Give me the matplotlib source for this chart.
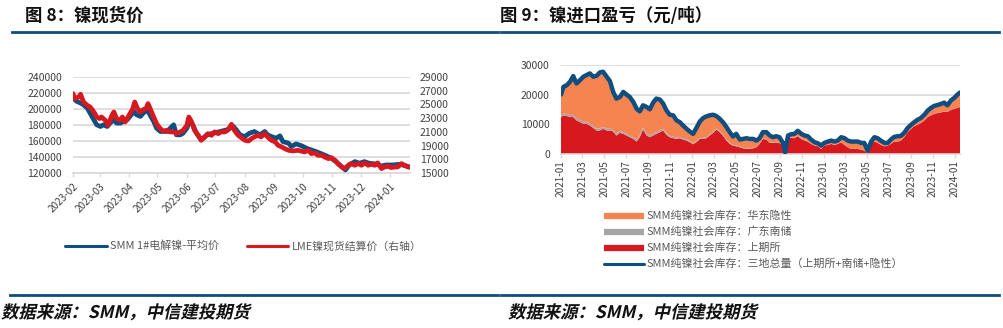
import numpy as np
import pandas as pd
import matplotlib
matplotlib.use('Agg')
import matplotlib.pyplot as plt
import matplotlib.dates as mdates
from matplotlib.lines import Line2D
from matplotlib import patheffects
from matplotlib.transforms import Affine2D

plt.rcParams['font.family'] = ['Noto Sans CJK SC', 'DejaVu Sans']

# ---------------- Figure 8 data: nickel spot prices ----------------
smm_dates = ['2023-02-01', '2023-02-05', '2023-02-09', '2023-02-12', '2023-02-16', '2023-02-19',
             '2023-02-23', '2023-02-26', '2023-03-02', '2023-03-05', '2023-03-09', '2023-03-12',
             '2023-03-16', '2023-03-19', '2023-03-23', '2023-03-26', '2023-03-30', '2023-04-02',
             '2023-04-06', '2023-04-09', '2023-04-13', '2023-04-16', '2023-04-20', '2023-04-23',
             '2023-04-27', '2023-04-30', '2023-05-04', '2023-05-11', '2023-05-18', '2023-05-21',
             '2023-05-25', '2023-05-28', '2023-06-01', '2023-06-04', '2023-06-08', '2023-06-11',
             '2023-06-16', '2023-06-22', '2023-06-29', '2023-07-06', '2023-07-13', '2023-07-20',
             '2023-07-23', '2023-07-27', '2023-08-01', '2023-08-06', '2023-08-11', '2023-08-17',
             '2023-08-22', '2023-08-25', '2023-08-29', '2023-09-03', '2023-09-07', '2023-09-10',
             '2023-09-16', '2023-09-19', '2023-09-24', '2023-09-30', '2023-10-05', '2023-10-10',
             '2023-10-15', '2023-10-21', '2023-10-26', '2023-10-31', '2023-11-05', '2023-11-11',
             '2023-11-15', '2023-11-19', '2023-11-25', '2023-11-30', '2023-12-05', '2023-12-10',
             '2023-12-17', '2023-12-23', '2023-12-28', '2024-01-04', '2024-01-11', '2024-01-18',
             '2024-01-22']
smm_price = [213670, 209490, 207400, 205310, 201130, 194860,
             186500, 180230, 178140, 180230, 178140, 182320,
             186500, 182320, 182320, 184410, 186500, 190680,
             196950, 192770, 190680, 194860, 199040, 192770,
             184410, 176050, 171870, 171870, 180230, 167690,
             167690, 169780, 176050, 186500, 178140, 169780,
             161420, 167690, 169780, 171870, 173960, 178140,
             173960, 167690, 165600, 169780, 171870, 167690,
             171870, 167690, 165600, 163510, 166430, 159330,
             157240, 153060, 156400, 153890, 150970, 148880,
             146790, 143860, 141350, 138430, 134250, 127980,
             123800, 130070, 134250, 132160, 134250, 132160,
             131320, 128810, 130070, 130070, 130900, 128810,
             127140]

lme_dates = ['2023-02-01', '2023-02-03', '2023-02-07', '2023-02-09', '2023-02-12', '2023-02-16',
             '2023-02-19', '2023-02-23', '2023-02-26', '2023-03-01', '2023-03-03', '2023-03-07',
             '2023-03-10', '2023-03-14', '2023-03-16', '2023-03-19', '2023-03-23', '2023-03-25',
             '2023-03-28', '2023-03-30', '2023-04-02', '2023-04-05', '2023-04-07', '2023-04-10',
             '2023-04-13', '2023-04-16', '2023-04-19', '2023-04-21', '2023-04-24', '2023-04-27',
             '2023-04-30', '2023-05-04', '2023-05-07', '2023-05-11', '2023-05-14', '2023-05-18',
             '2023-05-21', '2023-05-25', '2023-05-28', '2023-06-01', '2023-06-03', '2023-06-06',
             '2023-06-09', '2023-06-13', '2023-06-16', '2023-06-20', '2023-06-23', '2023-06-27',
             '2023-06-30', '2023-07-04', '2023-07-07', '2023-07-11', '2023-07-14', '2023-07-18',
             '2023-07-21', '2023-07-25', '2023-08-01', '2023-08-05', '2023-08-08', '2023-08-11',
             '2023-08-15', '2023-08-18', '2023-08-22', '2023-08-25', '2023-08-29', '2023-09-02',
             '2023-09-05', '2023-09-09', '2023-09-12', '2023-09-16', '2023-09-21', '2023-09-26',
             '2023-09-30', '2023-10-03', '2023-10-07', '2023-10-10', '2023-10-14', '2023-10-17',
             '2023-10-21', '2023-10-24', '2023-10-28', '2023-10-31', '2023-11-04', '2023-11-07',
             '2023-11-11', '2023-11-14', '2023-11-18', '2023-11-21', '2023-11-25', '2023-11-28',
             '2023-12-02', '2023-12-05', '2023-12-09', '2023-12-12', '2023-12-16', '2023-12-19',
             '2023-12-23', '2023-12-26', '2023-12-30', '2024-01-02', '2024-01-06', '2024-01-09',
             '2024-01-13', '2024-01-16', '2024-01-20', '2024-01-22']
lme_price = [26580, 25850, 26090, 26480, 25360, 24870,
             24630, 23900, 23170, 22930, 23170, 22690,
             21960, 23420, 23900, 22930, 22690, 23170,
             22440, 22930, 23660, 24390, 25360, 24390,
             23900, 24240, 24390, 25120, 24150, 23170,
             22200, 21470, 21130, 21230, 20990, 20990,
             20740, 20990, 21230, 21960, 23170, 22440,
             21230, 20500, 19770, 20260, 20740, 20500,
             20990, 20740, 20990, 20990, 21230, 22100,
             21230, 20500, 19770, 19670, 20010, 20260,
             20500, 20260, 20740, 20260, 19770, 19530,
             19040, 18800, 18560, 18310, 18220, 18310,
             18170, 18070, 18310, 17830, 17920, 17580,
             17580, 17340, 17100, 17240, 16860, 16370,
             15880, 15640, 16130, 16370, 16130, 16370,
             16130, 16470, 16130, 16270, 16130, 16470,
             15640, 15880, 15980, 15790, 15880, 15880,
             16370, 16130, 15880, 15880]

# ---------------- Figure 9 data: SMM pure nickel social inventory ----------------
inv_dates = ['2021-01-01', '2021-01-08', '2021-01-17', '2021-01-26', '2021-02-04', '2021-02-13', '2021-02-23', '2021-03-04', '2021-03-13', '2021-03-22',
             '2021-04-01', '2021-04-10', '2021-04-19', '2021-04-28', '2021-05-08', '2021-05-17', '2021-05-26', '2021-06-04', '2021-06-14', '2021-06-23',
             '2021-07-02', '2021-07-11', '2021-07-21', '2021-07-30', '2021-08-08', '2021-08-17', '2021-08-27', '2021-09-05', '2021-09-14', '2021-09-23',
             '2021-10-03', '2021-10-12', '2021-10-21', '2021-10-30', '2021-11-09', '2021-11-18', '2021-11-27', '2021-12-06', '2021-12-16', '2021-12-25',
             '2022-01-03', '2022-01-12', '2022-01-22', '2022-01-31', '2022-02-09', '2022-02-18', '2022-02-28', '2022-03-09', '2022-03-18', '2022-03-27',
             '2022-04-06', '2022-04-15', '2022-04-24', '2022-05-03', '2022-05-13', '2022-05-22', '2022-05-31', '2022-06-09', '2022-06-19', '2022-06-28',
             '2022-07-07', '2022-07-16', '2022-07-26', '2022-08-04', '2022-08-13', '2022-08-22', '2022-08-31', '2022-09-10', '2022-09-16', '2022-09-24',
             '2022-10-03', '2022-10-12', '2022-10-21', '2022-10-31', '2022-11-09', '2022-11-18', '2022-11-27', '2022-12-07', '2022-12-16', '2022-12-25',
             '2023-01-03', '2023-01-13', '2023-01-22', '2023-01-31', '2023-02-09', '2023-02-19', '2023-02-28', '2023-03-09', '2023-03-18', '2023-03-28',
             '2023-04-06', '2023-04-15', '2023-04-24', '2023-05-03', '2023-05-13', '2023-05-22', '2023-05-31', '2023-06-10', '2023-06-19', '2023-06-28',
             '2023-07-07', '2023-07-16', '2023-07-26', '2023-08-04', '2023-08-13', '2023-08-22', '2023-09-01', '2023-09-10', '2023-09-19', '2023-09-28',
             '2023-10-08', '2023-10-17', '2023-10-26', '2023-11-04', '2023-11-14', '2023-11-23', '2023-12-02', '2023-12-11', '2023-12-21', '2023-12-30',
             '2024-01-08', '2024-01-15']
inv_total = [20040, 22640, 23210, 24340, 26260, 23770, 24900, 26040, 26600, 27170,
             26040, 26380, 27510, 27730, 26040, 24560, 20940, 18680, 19240, 20940,
             20040, 19240, 17550, 15280, 14380, 16410, 15850, 15060, 17320, 18680,
             18340, 16980, 14720, 13240, 13020, 11320, 10750, 9620, 8490, 7580,
             6790, 8720, 10980, 12110, 12680, 13020, 13240, 12790, 11890, 10750,
             9060, 7360, 5890, 6790, 4870, 5090, 5320, 5090, 5090, 4530,
             5320, 7360, 7360, 6230, 5660, 6000, 5660, 3740, 570, 6230,
             6680, 6790, 7810, 6790, 6230, 6000, 4870, 3960, 3620, 2830,
             3740, 4190, 4530, 4190, 4530, 5660, 5320, 4530, 4190, 4190,
             4190, 3740, 3740, 1130, 4190, 5660, 5320, 4410, 3740, 3740,
             4870, 5770, 6000, 6110, 7130, 8720, 9850, 10750, 11550, 12110,
             13240, 14600, 15510, 16190, 16530, 16870, 17320, 16410, 18110, 18900,
             20040, 20720]
inv_shfe = [12450, 13020, 12790, 12450, 12450, 11320, 10750, 10190, 10190, 9620,
            8720, 7920, 7920, 8490, 7920, 7920, 7580, 6230, 7130, 6790,
            6230, 5660, 5090, 4190, 5660, 8260, 6230, 5660, 6230, 6790,
            7360, 7920, 6450, 5660, 5320, 5090, 5320, 4870, 4530, 3960,
            3280, 3960, 5090, 5090, 5320, 6230, 7130, 8260, 7360, 6230,
            4530, 3400, 2830, 2600, 2260, 1920, 1700, 1700, 1920, 2260,
            3400, 5090, 4870, 3740, 3740, 3740, 3740, 2830, 340, 5660,
            5430, 5320, 6000, 5090, 4530, 4190, 3400, 2830, 2600, 1700,
            2830, 3060, 3400, 3060, 3400, 3960, 3060, 2260, 1700, 1700,
            1700, 1470, 1130, 340, 3740, 4190, 3740, 3060, 2600, 2830,
            3400, 4190, 4190, 4530, 5660, 7360, 8490, 9400, 9850, 10410,
            11320, 12450, 13000, 13500, 13800, 14000, 14300, 14200, 14900, 15200,
            15600, 15800]
inv_gd = [600, 650, 700, 700, 750, 700, 700, 650, 700, 700,
          650, 700, 700, 650, 650, 600, 600, 600, 650, 650,
          600, 600, 600, 650, 650, 700, 650, 600, 650, 600,
          600, 550, 550, 500, 500, 500, 450, 450, 450, 400,
          400, 400, 350, 350, 350, 350, 400, 400, 350, 350,
          300, 300, 300, 250, 250, 200, 200, 200, 200, 150,
          150, 150, 150, 150, 150, 150, 150, 150, 100, 150,
          150, 150, 150, 150, 150, 100, 100, 100, 100, 100,
          50, 50, 50, 50, 50, 50, 50, 50, 50, 50,
          50, 50, 50, 50, 50, 50, 50, 50, 50, 50,
          50, 50, 50, 50, 50, 50, 50, 50, 50, 50,
          50, 50, 50, 50, 50, 50, 50, 50, 50, 50,
          50, 50]

legend8 = ['SMM 1#电解镍-平均价', 'LME镍现货结算价（右轴）']
legend9 = ['SMM纯镍社会库存：华东隐性', 'SMM纯镍社会库存：广东南储',
           'SMM纯镍社会库存：上期所', 'SMM纯镍社会库存：三地总量（上期所+南储+隐性）']

# ---------------- styling ----------------
NAVY = '#0f4e7f'
RED = '#d7191f'
ORANGE = '#f68451'
GRAY = '#a6a6a6'
GRID = '#d9d9d9'
TXT = '#404040'
LEG = '#595959'
W, H = 1004, 328


def fx(px):
    return px / W


def fy(py):
    return 1 - py / H


class Italic(patheffects.AbstractPathEffect):
    def draw_path(self, renderer, gc, tpath, affine, rgbFace=None):
        renderer.draw_path(gc, tpath, Affine2D().skew_deg(13, 0) + affine, rgbFace)


fig = plt.figure(figsize=(W / 100, H / 100), dpi=100)

# ---------- panel titles, rules, sources ----------
fig.text(fx(25), fy(16), '图 8：镍现货价', fontsize=12.5, fontweight='bold', va='center', color='#111111')
fig.text(fx(500), fy(16), '图 9：镍进口盈亏（元/吨）', fontsize=12.5, fontweight='bold', va='center', color='#111111')
for x0, x1 in [(12, 498), (501, 999)]:
    fig.add_artist(Line2D([fx(x0), fx(x1)], [fy(32), fy(32)], color=NAVY, lw=2.0))
for x0, x1 in [(10, 498), (501, 999)]:
    fig.add_artist(Line2D([fx(x0), fx(x1)], [fy(295), fy(295)], color=NAVY, lw=2.0))
for x0 in [1, 508]:
    fig.text(fx(x0), fy(313), '数据来源：SMM，中信建投期货', fontsize=12.5, fontweight='bold',
             va='center', color='#111111', path_effects=[Italic()])

# ---------- Figure 8 ----------
ax1 = fig.add_axes([fx(73), fy(173), fx(410) - fx(73), fy(77) - fy(173)])
sd = pd.to_datetime(smm_dates)
ld = pd.to_datetime(lme_dates)
ax1.plot(sd, smm_price, color=NAVY, lw=3.4, solid_joinstyle='round', solid_capstyle='round', zorder=3)
ax1.set_ylim(120000, 240000)
ax1.set_yticks(np.arange(120000, 240001, 20000))
ax1.set_xlim(sd[0], sd[-1])
ax1.grid(axis='y', color=GRID, lw=1.2)
ax1.set_axisbelow(True)
ax1b = ax1.twinx()
ax1b.plot(ld, lme_price, color=RED, lw=3.4, solid_joinstyle='round', solid_capstyle='round', zorder=3)
ax1b.set_ylim(15000, 29000)
ax1b.set_yticks(np.arange(15000, 29001, 2000))
ax1b.set_xlim(sd[0], sd[-1])
for a in (ax1, ax1b):
    for s in ['top', 'left', 'right']:
        a.spines[s].set_visible(False)
    a.spines['bottom'].set_color(GRID)
    a.spines['bottom'].set_linewidth(1.2)
ax1b.spines['bottom'].set_visible(False)
ax1.xaxis.set_major_locator(mdates.MonthLocator())
ax1.xaxis.set_major_formatter(mdates.DateFormatter('%Y-%m'))
ax1.tick_params(axis='x', length=3, width=1, color=GRID, labelsize=7.2, labelcolor=TXT, pad=3)
for lab in ax1.get_xticklabels():
    lab.set_rotation(45)
    lab.set_ha('right')
    lab.set_va('top')
    lab.set_rotation_mode('anchor')
ax1.tick_params(axis='y', length=0, labelsize=7.5, labelcolor=TXT, pad=8)
ax1b.tick_params(axis='y', length=0, labelsize=7.5, labelcolor=TXT, pad=7)

# legend figure 8 (manual)
fig.add_artist(Line2D([fx(65), fx(107)], [fy(246), fy(246)], color=NAVY, lw=2.2, solid_capstyle='round'))
fig.text(fx(110), fy(246), legend8[0], fontsize=7.9, color=LEG, va='center')
fig.add_artist(Line2D([fx(247), fx(288)], [fy(246), fy(246)], color=RED, lw=2.2, solid_capstyle='round'))
fig.text(fx(292), fy(246), legend8[1], fontsize=7.8, color=LEG, va='center')

# ---------- Figure 9 ----------
ax2 = fig.add_axes([fx(561), fy(154), fx(960) - fx(561), fy(65) - fy(154)])
idt = pd.to_datetime(inv_dates)
tot = np.array(inv_total, dtype=float)
shfe = np.array(inv_shfe, dtype=float)
gd = np.array(inv_gd, dtype=float)
hidden = np.clip(tot - shfe - gd, 0, None)
ax2.stackplot(idt, shfe, gd, hidden, colors=[RED, GRAY, ORANGE], lw=0, zorder=2)
ax2.plot(idt, tot, color=NAVY, lw=3.2, solid_joinstyle='round', solid_capstyle='round', zorder=3)
ax2.set_ylim(0, 30000)
ax2.set_yticks([0, 10000, 20000, 30000])
ax2.set_xlim(idt[0], idt[-1])
ax2.grid(axis='y', color=GRID, lw=1.2)
ax2.set_axisbelow(True)
for s in ['top', 'left', 'right']:
    ax2.spines[s].set_visible(False)
ax2.spines['bottom'].set_color(GRID)
ax2.spines['bottom'].set_linewidth(1.2)
ax2.xaxis.set_major_locator(mdates.MonthLocator(bymonth=[1, 3, 5, 7, 9, 11]))
ax2.xaxis.set_major_formatter(mdates.DateFormatter('%Y-%m'))
ax2.tick_params(axis='x', length=3, width=1, color=GRID, labelsize=7.2, labelcolor=TXT,
                pad=1.5, labelrotation=90)
ax2.tick_params(axis='y', length=0, labelsize=7.5, labelcolor=TXT, pad=8)

# legend figure 9 (manual)
rows = [215.5, 231.5, 247.5, 263.5]
cols = [ORANGE, GRAY, RED]
for i in range(3):
    fig.add_artist(Line2D([fx(604), fx(644)], [fy(rows[i]), fy(rows[i])], color=cols[i], lw=4.5,
                          solid_capstyle='butt'))
fig.add_artist(Line2D([fx(604), fx(644)], [fy(rows[3]), fy(rows[3])], color=NAVY, lw=2.2,
                      solid_capstyle='round'))
for i in range(4):
    fig.text(fx(647), fy(rows[i]), legend9[i], fontsize=7.9, color=LEG, va='center')

fig.savefig('out.png', dpi=100)
